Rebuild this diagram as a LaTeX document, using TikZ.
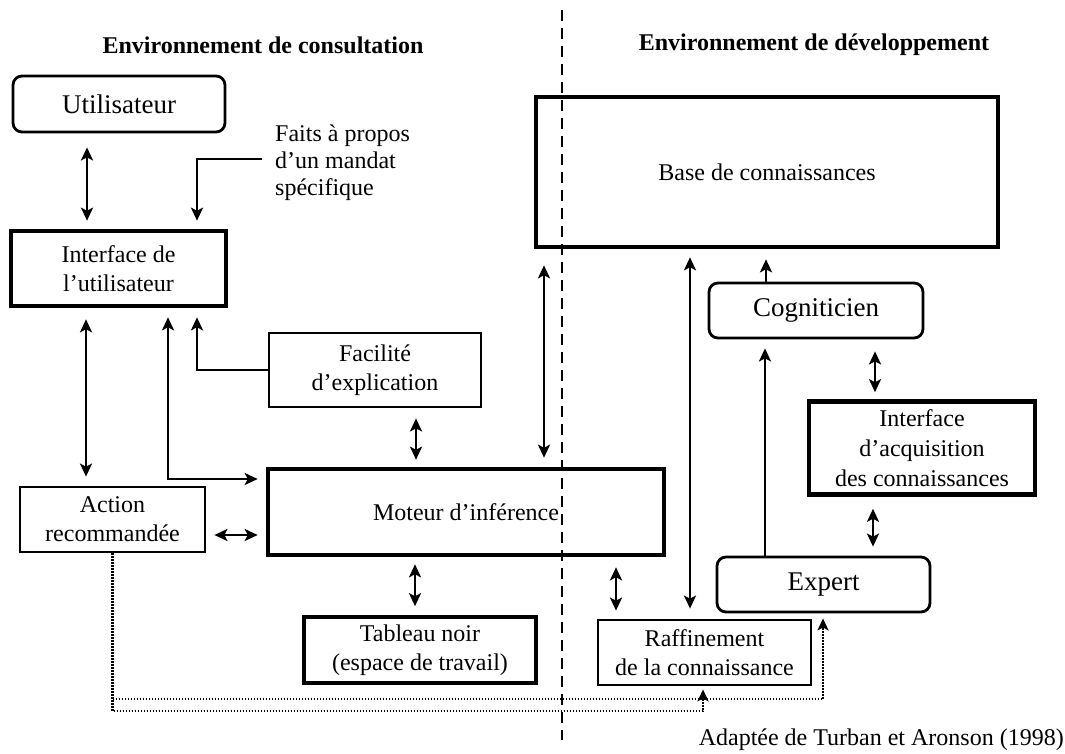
\documentclass[tikz,border=0pt]{standalone}
\usepackage{fontspec}
\setmainfont{Liberation Serif}
\usetikzlibrary{arrows.meta}
\tikzset{
  txt/.style={font=\fontsize{24}{29}\selectfont, align=center, inner sep=0pt},
  bigtxt/.style={font=\fontsize{27}{31}\selectfont, align=center, inner sep=0pt},
  plainbox/.style={txt, draw, line width=2.8pt},
  midbox/.style={txt, draw, line width=3.6pt},
  thickbox/.style={txt, draw, line width=4.6pt},
  roundbox/.style={bigtxt, draw, line width=2.8pt, rounded corners=9pt},
  arr/.style={-{Stealth[length=13pt,width=12pt,inset=3pt]}, line width=2.3pt},
  dbl/.style={{Stealth[length=13pt,width=12pt,inset=3pt]}-{Stealth[length=13pt,width=12pt,inset=3pt]}, line width=2.3pt},
  dotline/.style={line width=2.1pt, dash pattern=on 1.6pt off 1.4pt},
  dotarr/.style={dotline, -{Stealth[length=12pt,width=11pt,inset=3pt]}},
  sep/.style={line width=2.6pt, dash pattern=on 11pt off 7pt},
  head/.style={font=\fontsize{24}{28}\selectfont\bfseries, inner sep=0pt}
}
\begin{document}
\begin{tikzpicture}[x=1pt,y=-1pt]
\useasboundingbox (0,0) rectangle (1065,754);
\fill[white] (0,0) rectangle (1065,754);

% headers
\node[head] (h1) at (263,45) {Environnement de consultation};
\node[head] (h2) at (814,45) {Environnement de développement};

% separator
\coordinate (s1) at (562,10);
\coordinate (s2) at (562,740);
\draw[sep] (s1) -- (s2);

% nodes
\node[roundbox, minimum width=212pt, minimum height=56pt] (u) at (119,104) {Utilisateur};
\node[txt, anchor=west] (f) at (275,163) {\begin{tabular}{@{}l@{}}Faits à propos\\[-2pt] d’un mandat\\[-2pt] spécifique\end{tabular}};
\node[thickbox, minimum width=215pt, minimum height=75pt] (ui) at (118.5,268.5) {Interface de\\ l’utilisateur};
\node[plainbox, minimum width=212pt, minimum height=74pt] (fac) at (375,370) {Facilité\\ d’explication};
\node[plainbox, minimum width=185pt, minimum height=65pt] (act) at (112.5,519.5) {Action\\ recommandée};
\node[thickbox, minimum width=396pt, minimum height=86pt] (mot) at (466,512) {Moteur d’inférence};
\node[midbox, minimum width=232pt, minimum height=66pt] (tab) at (420,650) {Tableau noir\\ (espace de travail)};
\node[plainbox, minimum width=213pt, minimum height=65pt] (raf) at (704.5,652.5) {Raffinement\\ de la connaissance};
\node[thickbox, minimum width=462pt, minimum height=150pt] (base) at (767,172) {Base de connaissances};
\node[roundbox, minimum width=214pt, minimum height=55pt] (cog) at (816,310.5) {Cogniticien};
\node[thickbox, minimum width=226pt, minimum height=93pt, font=\fontsize{24}{30}\selectfont] (acq) at (922,448) {Interface\\ d’acquisition\\ des connaissances};
\node[roundbox, minimum width=213pt, minimum height=55pt] (exp) at (823.5,584.5) {Expert};

\node[txt, anchor=east] (src) at (1064,740) {Adaptée de Turban et Aronson (1998)};

% connectors
\draw[dbl] ([shift={(-32,14)}]u.south) -- ([shift={(-31.5,-8)}]ui.north);
\draw[arr] ([shift={(-13,-4)}]f.west) -| ([shift={(78.5,-8)}]ui.north);
\draw[dbl] ([shift={(-32.5,11)}]ui.south) -- ([shift={(-26.5,-9)}]act.north);
\draw[dbl] ([shift={(49.5,9)}]ui.south) |- ([shift={(-8,-33)}]mot.west);
\draw[arr] (fac.west) -| ([shift={(78.5,9)}]ui.south);
\draw[dbl] ([shift={(41,10)}]fac.south) -- ([shift={(-50,-7)}]mot.north);
\draw[dbl] ([shift={(8,15.5)}]act.east) -- ([shift={(-8,23)}]mot.west);
\draw[dbl] ([shift={(-51,7)}]mot.south) -- ([shift={(-5,-9)}]tab.north);
\draw[dbl] ([shift={(-223,16)}]base.south) -- ([shift={(78,-9)}]mot.north);
\draw[dbl] ([shift={(150,10)}]mot.south) -- ([shift={(-88.5,-8)}]raf.north);
\draw[dbl] ([shift={(-77,8)}]base.south) -- ([shift={(-14.5,-10)}]raf.north);
\draw[arr] ([shift={(-50,0)}]cog.north) -- ([shift={(-1,10)}]base.south);
\draw[arr] ([shift={(-58.5,0)}]exp.north) -- ([shift={(-51,9)}]cog.south);
\draw[dbl] ([shift={(59,12)}]cog.south) -- ([shift={(-47,-7)}]acq.north);
\draw[dbl] ([shift={(-49,12)}]acq.south) -- ([shift={(49.5,-9)}]exp.north);

% dotted feedback
\draw[dotarr] (act.south) |- ([shift={(-1.5,25)}]raf.south) -- ([shift={(-1.5,3)}]raf.south);
\draw[dotarr] ([shift={(0,146)}]act.south) -| ([shift={(-0.5,5)}]exp.south);
\end{tikzpicture}
\end{document}
